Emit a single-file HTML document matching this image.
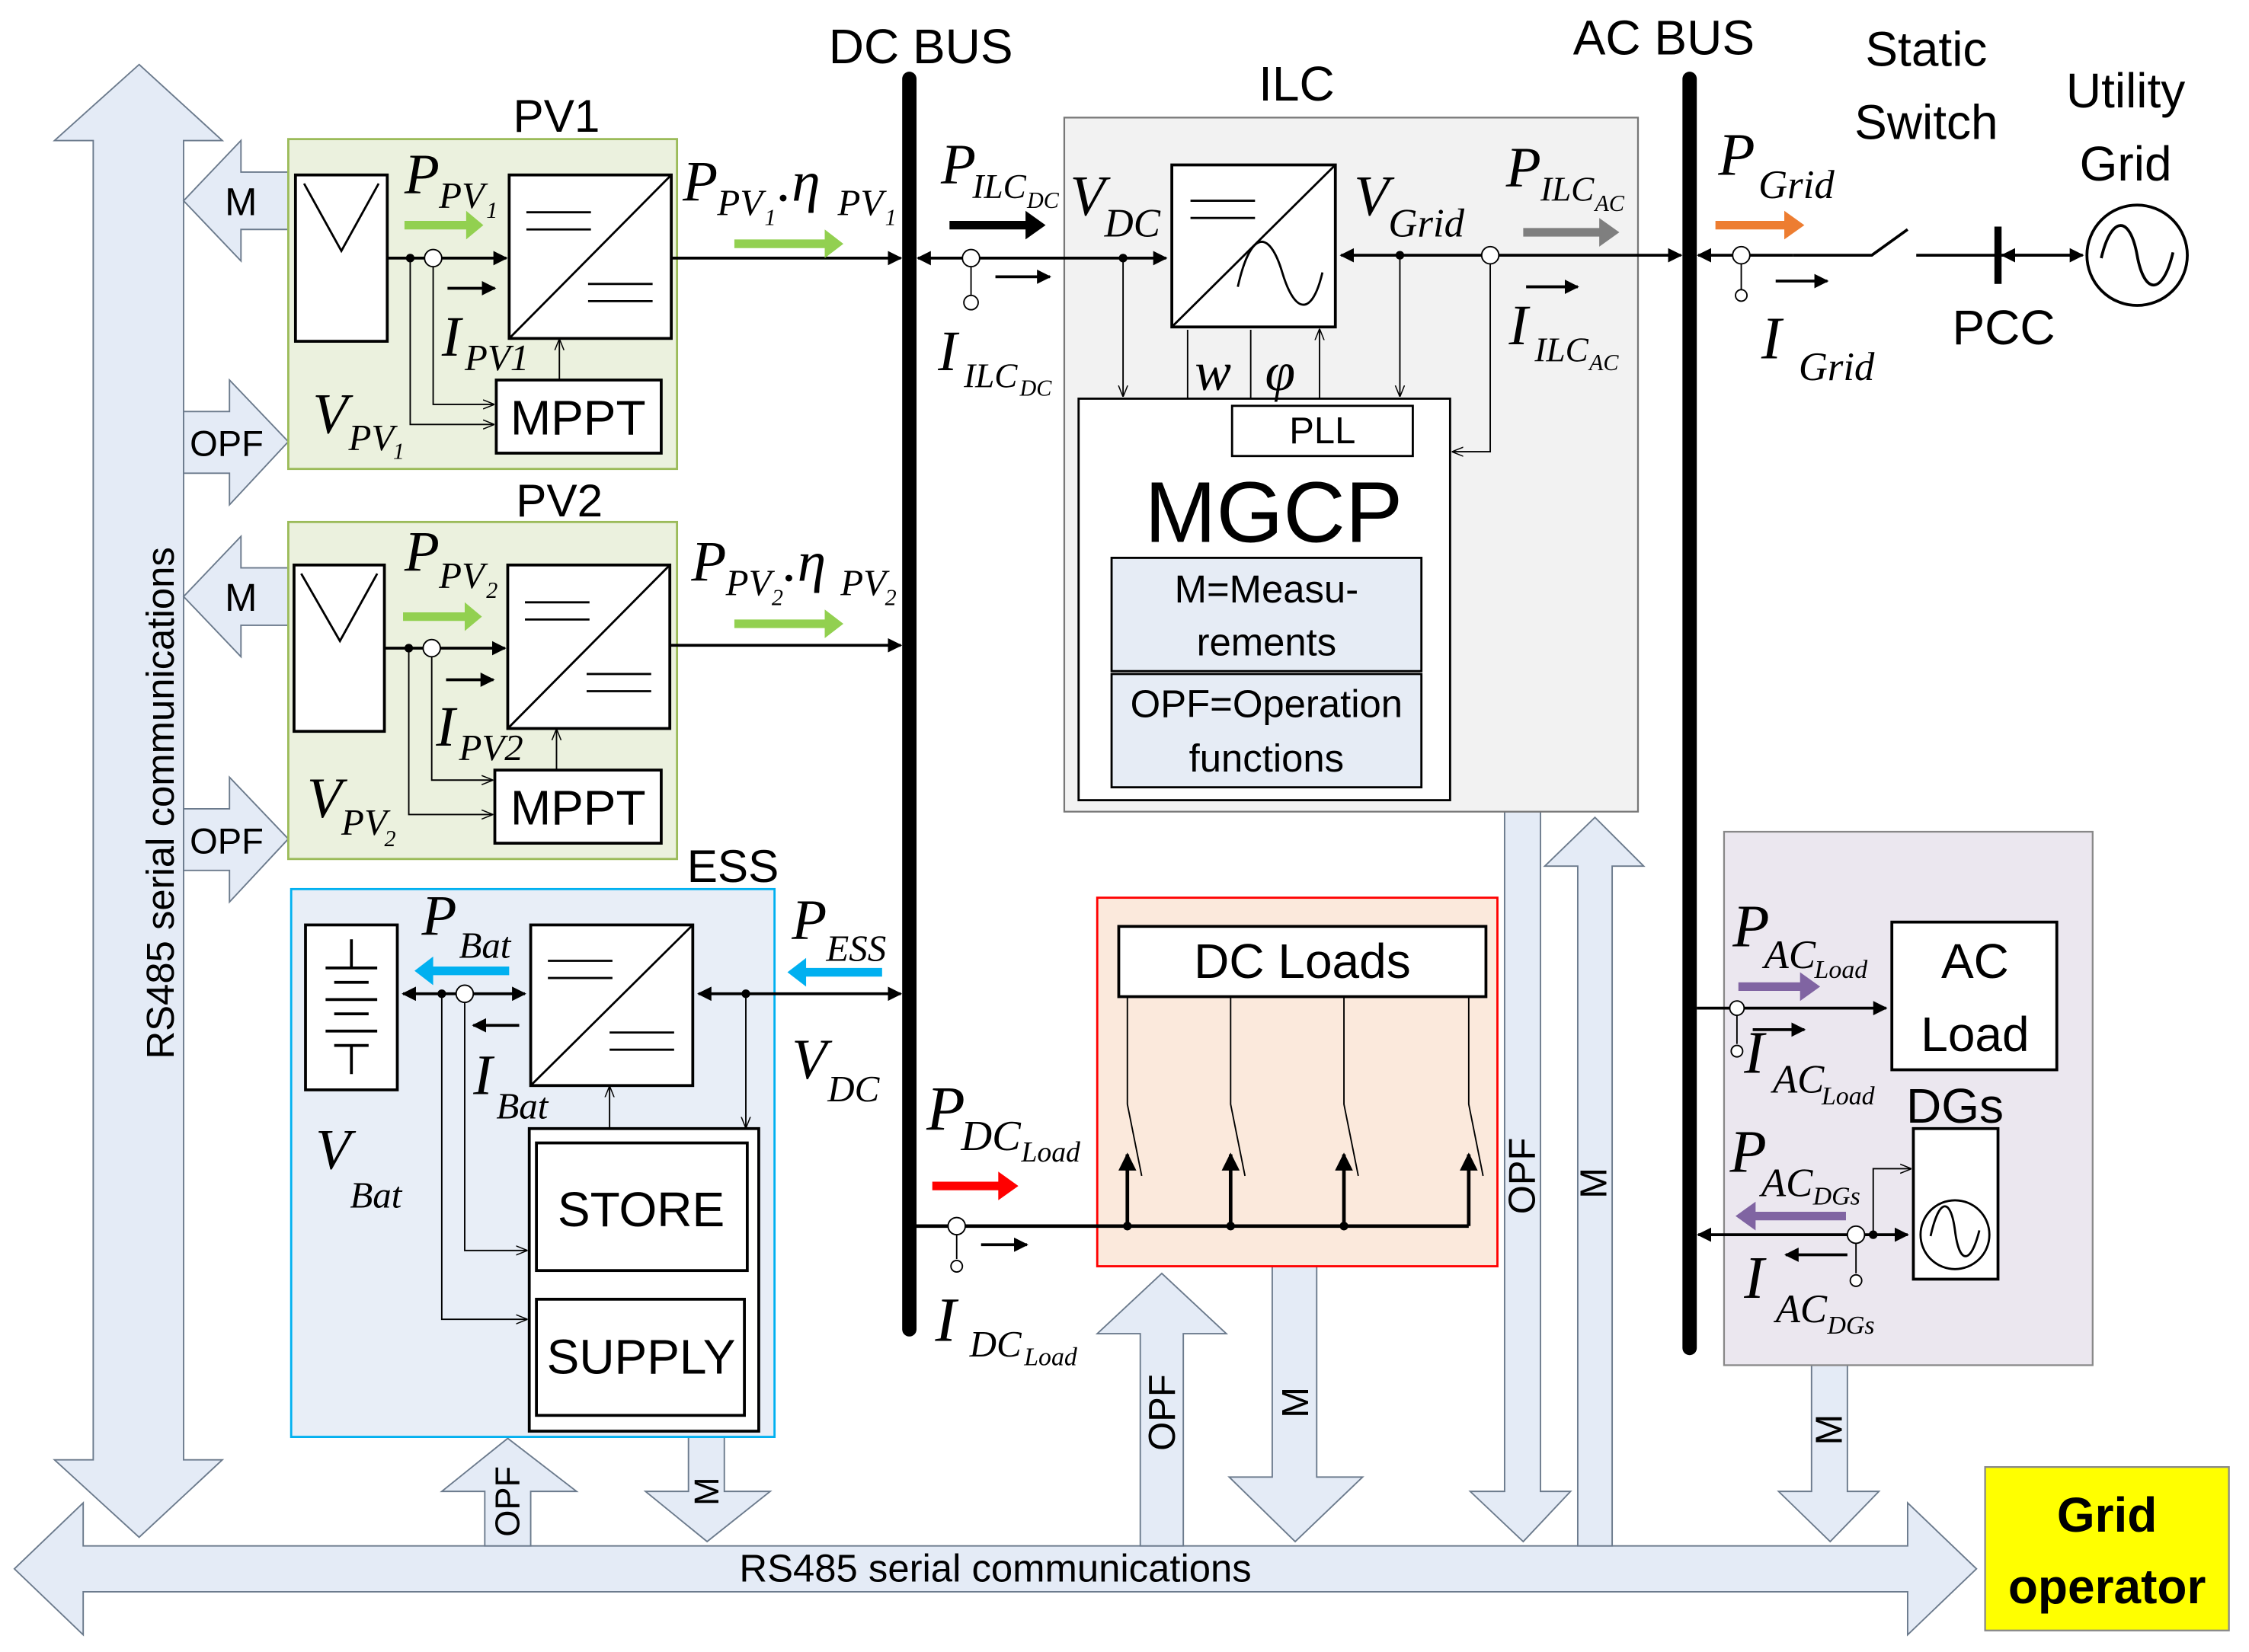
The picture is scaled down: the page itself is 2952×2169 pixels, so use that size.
<!DOCTYPE html>
<html><head><meta charset="utf-8"><style>
html,body{margin:0;padding:0;background:#fff}
svg{display:block}
.s{font-family:"Liberation Sans",sans-serif}
.m{font-family:"Liberation Serif",serif;font-style:italic}
.ar{fill:#e4ebf6;stroke:#6b7a8c;stroke-width:1}
path{fill:none}
path.f{fill:currentColor}
</style></head><body>
<svg width="2952" height="2169" viewBox="0 0 1568 1152" preserveAspectRatio="none" xmlns="http://www.w3.org/2000/svg">
<defs>
<marker id="a" viewBox="0 0 10 10" refX="9" refY="5" markerWidth="5" markerHeight="5" orient="auto-start-reverse"><polygon points="0,0 10,5 0,10" fill="#000"/></marker>
<marker id="o" viewBox="0 0 10 10" refX="9" refY="5" markerWidth="8" markerHeight="8" orient="auto"><polyline points="0,1 10,5 0,9" fill="none" stroke="#000" stroke-width="1"/></marker>
</defs>

<!-- big communication arrows -->
<polygon class="ar" points="97,45 155,98 128,98 128,1018 155,1018 97,1072 38,1018 65,1018 65,98 38,98"/>
<text class="s" font-size="27" transform="translate(121,560) rotate(-90)" text-anchor="middle">RS485 serial communications</text>
<polygon class="ar" points="10,1094 58,1048 58,1078 1330,1078 1330,1048 1378,1094 1330,1140 1330,1110 58,1110 58,1140"/>
<text class="s" font-size="27" x="694" y="1103" text-anchor="middle">RS485 serial communications</text>

<!-- small left arrows -->
<polygon class="ar" points="128,140 168,98 168,120 201,120 201,160 168,160 168,182"/>
<text class="s" font-size="27" x="168" y="150" text-anchor="middle">M</text>
<polygon class="ar" points="201,308 160,265 160,287 128,287 128,330 160,330 160,352"/>
<text class="s" font-size="25" x="158" y="318" text-anchor="middle">OPF</text>
<polygon class="ar" points="128,416 168,374 168,396 201,396 201,436 168,436 168,458"/>
<text class="s" font-size="27" x="168" y="426" text-anchor="middle">M</text>
<polygon class="ar" points="201,585 160,542 160,564 128,564 128,607 160,607 160,629"/>
<text class="s" font-size="25" x="158" y="595" text-anchor="middle">OPF</text>

<!-- vertical OPF/M arrows -->
<polygon class="ar" points="338,1078 338,1040 308,1040 354,1003 402,1040 370,1040 370,1078"/>
<text class="s" font-size="24" transform="translate(362,1047) rotate(-90)" text-anchor="middle">OPF</text>
<polygon class="ar" points="480,1002 505,1002 505,1040 537,1040 493,1075 450,1040 480,1040"/>
<text class="s" font-size="24" transform="translate(501,1040) rotate(-90)" text-anchor="middle">M</text>
<polygon class="ar" points="795,1078 795,930 765,930 810,888 855,930 825,930 825,1078"/>
<text class="s" font-size="26" transform="translate(819,985) rotate(-90)" text-anchor="middle">OPF</text>
<polygon class="ar" points="887,883 918,883 918,1030 950,1030 903,1075 857,1030 887,1030"/>
<text class="s" font-size="26" transform="translate(912,978) rotate(-90)" text-anchor="middle">M</text>
<polygon class="ar" points="1049,566 1074,566 1074,1040 1095,1040 1062,1075 1025,1040 1049,1040"/>
<text class="s" font-size="26" transform="translate(1070,820) rotate(-90)" text-anchor="middle">OPF</text>
<polygon class="ar" points="1100,1078 1100,604 1077,604 1112,570 1146,604 1124,604 1124,1078"/>
<text class="s" font-size="26" transform="translate(1120,825) rotate(-90)" text-anchor="middle">M</text>
<polygon class="ar" points="1263,952 1288,952 1288,1040 1310,1040 1276,1075 1240,1040 1263,1040"/>
<text class="s" font-size="26" transform="translate(1284,997) rotate(-90)" text-anchor="middle">M</text>

<!-- region boxes -->
<rect x="201" y="97" width="271" height="230" fill="#ebf1de" stroke="#9bbb59" stroke-width="1.5"/>
<rect x="201" y="364" width="271" height="235" fill="#ebf1de" stroke="#9bbb59" stroke-width="1.5"/>
<rect x="203" y="620" width="337" height="382" fill="#e8eef7" stroke="#00b0f0" stroke-width="1.5"/>
<rect x="742" y="82" width="400" height="484" fill="#f2f2f2" stroke="#777" stroke-width="1.2"/>
<rect x="765" y="626" width="279" height="257" fill="#fbe9dc" stroke="#f00" stroke-width="1.5"/>
<rect x="1202" y="580" width="257" height="372" fill="#ebe7ef" stroke="#888" stroke-width="1.2"/>
<rect x="1384" y="1023" width="170" height="114" fill="#ffff00" stroke="#888" stroke-width="1.2"/>
<text class="s" font-size="34" font-weight="bold" x="1469" y="1068" text-anchor="middle">Grid</text>
<text class="s" font-size="34" font-weight="bold" x="1469" y="1118" text-anchor="middle">operator</text>

<!-- titles -->
<text class="s" font-size="34" x="642" y="44" text-anchor="middle">DC BUS</text>
<text class="s" font-size="34" x="1160" y="38" text-anchor="middle">AC BUS</text>
<text class="s" font-size="34" x="904" y="70" text-anchor="middle">ILC</text>
<text class="s" font-size="34" x="1343" y="46" text-anchor="middle">Static</text>
<text class="s" font-size="34" x="1343" y="97" text-anchor="middle">Switch</text>
<text class="s" font-size="34" x="1482" y="75" text-anchor="middle">Utility</text>
<text class="s" font-size="34" x="1482" y="126" text-anchor="middle">Grid</text>
<text class="s" font-size="34" x="1397" y="240" text-anchor="middle">PCC</text>
<text class="s" font-size="32" x="388" y="92" text-anchor="middle">PV1</text>
<text class="s" font-size="32" x="390" y="360" text-anchor="middle">PV2</text>
<text class="s" font-size="32" x="511" y="615" text-anchor="middle">ESS</text>

<!-- buses -->
<line x1="634" y1="55" x2="634" y2="927" stroke="#000" stroke-width="10" stroke-linecap="round"/>
<line x1="1178" y1="55" x2="1178" y2="940" stroke="#000" stroke-width="10" stroke-linecap="round"/>

<!-- PV1 -->
<rect x="206" y="122" width="64" height="116" fill="#fff" stroke="#000" stroke-width="2"/>
<path d="M212,128 L238,175 L264,128" stroke="#000" stroke-width="1.5"/>
<rect x="355" y="122" width="113" height="114" fill="#fff" stroke="#000" stroke-width="2"/>
<path d="M355,236 L468,122 M367,148h45 M367,160h45 M410,198h45 M410,210h45" stroke="#000" stroke-width="1.5"/>
<rect x="346" y="265" width="115" height="51" fill="#fff" stroke="#000" stroke-width="2"/>
<text class="s" font-size="34" x="403" y="303" text-anchor="middle">MPPT</text>
<line x1="270" y1="180" x2="353" y2="180" stroke="#000" stroke-width="2" marker-end="url(#a)"/>
<circle cx="286" cy="180" r="3"/><circle cx="302" cy="180" r="6" fill="#fff" stroke="#000"/>
<path d="M286,180 V296 H344" stroke="#000" marker-end="url(#o)"/>
<path d="M302,186 V282 H344" stroke="#000" marker-end="url(#o)"/>
<path d="M390,265 V237" stroke="#000" marker-end="url(#o)"/>
<line x1="468" y1="180" x2="628" y2="180" stroke="#000" stroke-width="2" marker-end="url(#a)"/>
<line x1="312" y1="201" x2="345" y2="201" stroke="#000" stroke-width="2" marker-end="url(#a)"/>
<path d="M282,157h45" stroke="#92d050" stroke-width="6"/><polygon points="325,147 337,157 325,167" fill="#92d050"/>
<path d="M512,170h65" stroke="#92d050" stroke-width="6"/><polygon points="575,160 588,170 575,180" fill="#92d050"/>
<text class="m" font-size="40" x="282" y="135">P</text><text class="m" font-size="26" x="306" y="145">PV</text><text class="m" font-size="16" x="339" y="152">1</text>
<text class="m" font-size="40" x="476" y="140">P</text><text class="m" font-size="26" x="500" y="150">PV</text><text class="m" font-size="16" x="533" y="157">1</text>
<text class="m" font-size="40" x="542" y="140">.η</text><text class="m" font-size="26" x="584" y="150">PV</text><text class="m" font-size="16" x="617" y="157">1</text>
<text class="m" font-size="40" x="308" y="248">I</text><text class="m" font-size="26" x="324" y="258">PV1</text>
<text class="m" font-size="40" x="218" y="302">V</text><text class="m" font-size="26" x="243" y="314">PV</text><text class="m" font-size="16" x="274" y="320">1</text>

<!-- PV2 -->
<rect x="205" y="394" width="63" height="116" fill="#fff" stroke="#000" stroke-width="2"/>
<path d="M210,400 L237,447 L263,400" stroke="#000" stroke-width="1.5"/>
<rect x="354" y="394" width="113" height="114" fill="#fff" stroke="#000" stroke-width="2"/>
<path d="M354,508 L467,394 M366,420h45 M366,432h45 M409,470h45 M409,482h45" stroke="#000" stroke-width="1.5"/>
<rect x="345" y="537" width="116" height="51" fill="#fff" stroke="#000" stroke-width="2"/>
<text class="s" font-size="34" x="403" y="575" text-anchor="middle">MPPT</text>
<line x1="268" y1="452" x2="352" y2="452" stroke="#000" stroke-width="2" marker-end="url(#a)"/>
<circle cx="285" cy="452" r="3"/><circle cx="301" cy="452" r="6" fill="#fff" stroke="#000"/>
<path d="M285,452 V568 H343" stroke="#000" marker-end="url(#o)"/>
<path d="M301,458 V544 H343" stroke="#000" marker-end="url(#o)"/>
<path d="M388,537 V509" stroke="#000" marker-end="url(#o)"/>
<line x1="467" y1="450" x2="628" y2="450" stroke="#000" stroke-width="2" marker-end="url(#a)"/>
<line x1="311" y1="474" x2="344" y2="474" stroke="#000" stroke-width="2" marker-end="url(#a)"/>
<path d="M281,430h45" stroke="#92d050" stroke-width="6"/><polygon points="324,420 336,430 324,440" fill="#92d050"/>
<path d="M512,435h65" stroke="#92d050" stroke-width="6"/><polygon points="575,425 588,435 575,445" fill="#92d050"/>
<text class="m" font-size="40" x="282" y="398">P</text><text class="m" font-size="26" x="306" y="410">PV</text><text class="m" font-size="16" x="339" y="417">2</text>
<text class="m" font-size="40" x="482" y="405">P</text><text class="m" font-size="26" x="506" y="415">PV</text><text class="m" font-size="16" x="538" y="422">2</text>
<text class="m" font-size="40" x="546" y="405">.η</text><text class="m" font-size="26" x="586" y="415">PV</text><text class="m" font-size="16" x="617" y="422">2</text>
<text class="m" font-size="40" x="304" y="520">I</text><text class="m" font-size="26" x="320" y="530">PV2</text>
<text class="m" font-size="40" x="214" y="570">V</text><text class="m" font-size="26" x="238" y="582">PV</text><text class="m" font-size="16" x="268" y="590">2</text>

<!-- ESS -->
<rect x="213" y="645" width="64" height="115" fill="#fff" stroke="#000" stroke-width="2"/>
<path d="M245,655v20 M227,675h36 M233,685h24 M227,697h36 M233,707h24 M227,719h36 M233,729h24 M245,729v20" stroke="#000" stroke-width="2"/>
<rect x="370" y="645" width="113" height="112" fill="#fff" stroke="#000" stroke-width="2"/>
<path d="M370,757 L483,645 M382,670h45 M382,682h45 M425,720h45 M425,732h45" stroke="#000" stroke-width="1.5"/>
<rect x="369" y="787" width="160" height="211" fill="#fff" stroke="#000" stroke-width="2"/>
<rect x="374" y="797" width="147" height="89" fill="#fff" stroke="#000" stroke-width="2"/>
<rect x="374" y="906" width="145" height="81" fill="#fff" stroke="#000" stroke-width="2"/>
<text class="s" font-size="34" x="447" y="855" text-anchor="middle">STORE</text>
<text class="s" font-size="34" x="447" y="958" text-anchor="middle">SUPPLY</text>
<line x1="281" y1="693" x2="366" y2="693" stroke="#000" stroke-width="2" marker-start="url(#a)" marker-end="url(#a)"/>
<line x1="487" y1="693" x2="628" y2="693" stroke="#000" stroke-width="2" marker-start="url(#a)" marker-end="url(#a)"/>
<circle cx="308" cy="693" r="3"/><circle cx="324" cy="693" r="6" fill="#fff" stroke="#000"/><circle cx="520" cy="693" r="3"/>
<path d="M308,693 V920 H367" stroke="#000" marker-end="url(#o)"/>
<path d="M324,699 V872 H367" stroke="#000" marker-end="url(#o)"/>
<path d="M520,693 V786" stroke="#000" marker-end="url(#o)"/>
<path d="M425,787 V758" stroke="#000" marker-end="url(#o)"/>
<line x1="362" y1="715" x2="330" y2="715" stroke="#000" stroke-width="2" marker-end="url(#a)"/>
<path d="M300,677h55" stroke="#00b0f0" stroke-width="6"/><polygon points="302,667 289,677 302,687" fill="#00b0f0"/>
<path d="M560,678h55" stroke="#00b0f0" stroke-width="6"/><polygon points="562,668 549,678 562,688" fill="#00b0f0"/>
<text class="m" font-size="40" x="294" y="652">P</text><text class="m" font-size="26" x="320" y="668">Bat</text>
<text class="m" font-size="40" x="552" y="655">P</text><text class="m" font-size="26" x="576" y="670">ESS</text>
<text class="m" font-size="40" x="330" y="763">I</text><text class="m" font-size="26" x="346" y="780">Bat</text>
<text class="m" font-size="40" x="220" y="815">V</text><text class="m" font-size="26" x="244" y="842">Bat</text>
<text class="m" font-size="40" x="552" y="752">V</text><text class="m" font-size="26" x="577" y="768">DC</text>

<!-- ILC -->
<rect x="817" y="115" width="114" height="113" fill="#fff" stroke="#000" stroke-width="2"/>
<path d="M817,228 L931,115 M830,140h45 M830,152h45" stroke="#000" stroke-width="1.5"/>
<path d="M863,200 C872,160 885,160 894,190 C903,220 915,220 922,190" stroke="#000" stroke-width="1.5"/>
<line x1="640" y1="180" x2="813" y2="180" stroke="#000" stroke-width="2" marker-start="url(#a)" marker-end="url(#a)"/>
<line x1="935" y1="178" x2="1172" y2="178" stroke="#000" stroke-width="2" marker-start="url(#a)" marker-end="url(#a)"/>
<circle cx="677" cy="180" r="6" fill="#fff" stroke="#000"/><path d="M677,186V206" stroke="#000"/><circle cx="677" cy="211" r="5" fill="#fff" stroke="#000"/>
<line x1="694" y1="193" x2="732" y2="193" stroke="#000" stroke-width="2" marker-end="url(#a)"/>
<circle cx="783" cy="180" r="3"/><path d="M783,180V276" stroke="#000" marker-end="url(#o)"/>
<circle cx="976" cy="178" r="3"/><path d="M976,178V276" stroke="#000" marker-end="url(#o)"/>
<circle cx="1039" cy="178" r="6" fill="#fff" stroke="#000"/><path d="M1039,184V315H1013" stroke="#000" marker-end="url(#o)"/>
<line x1="1064" y1="200" x2="1100" y2="200" stroke="#000" stroke-width="2" marker-end="url(#a)"/>
<path d="M828,278V230 M872,278V230 M920,278V230" stroke="#000" marker-end="url(#o)"/>
<rect x="752" y="278" width="259" height="280" fill="#fff" stroke="#000" stroke-width="1.5"/>
<rect x="859" y="283" width="126" height="35" fill="#fff" stroke="#000" stroke-width="1.5"/>
<text class="s" font-size="26" x="922" y="309" text-anchor="middle">PLL</text>
<text class="s" font-size="60" x="888" y="378" text-anchor="middle">MGCP</text>
<rect x="775" y="389" width="216" height="79" fill="#e6ecf5" stroke="#000" stroke-width="1.5"/>
<rect x="775" y="470" width="216" height="79" fill="#e6ecf5" stroke="#000" stroke-width="1.5"/>
<text class="s" font-size="27" x="883" y="420" text-anchor="middle">M=Measu-</text>
<text class="s" font-size="27" x="883" y="457" text-anchor="middle">rements</text>
<text class="s" font-size="27" x="883" y="500" text-anchor="middle">OPF=Operation</text>
<text class="s" font-size="27" x="883" y="538" text-anchor="middle">functions</text>
<text class="m" font-size="38" x="833" y="272">w</text><text class="m" font-size="38" x="882" y="272">φ</text>
<path d="M662,157h55" stroke="#000" stroke-width="6"/><polygon points="715,147 729,157 715,167" fill="#000"/>
<path d="M1062,162h55" stroke="#7f7f7f" stroke-width="6"/><polygon points="1115,152 1129,162 1115,172" fill="#7f7f7f"/>
<text class="m" font-size="40" x="656" y="128">P</text><text class="m" font-size="24" x="678" y="138">ILC</text><text class="m" font-size="16" x="716" y="145">DC</text>
<text class="m" font-size="40" x="746" y="150">V</text><text class="m" font-size="28" x="770" y="165">DC</text>
<text class="m" font-size="40" x="944" y="150">V</text><text class="m" font-size="28" x="968" y="165">Grid</text>
<text class="m" font-size="40" x="1050" y="130">P</text><text class="m" font-size="24" x="1074" y="140">ILC</text><text class="m" font-size="16" x="1112" y="147">AC</text>
<text class="m" font-size="40" x="654" y="258">I</text><text class="m" font-size="24" x="672" y="270">ILC</text><text class="m" font-size="16" x="711" y="276">DC</text>
<text class="m" font-size="40" x="1052" y="240">I</text><text class="m" font-size="24" x="1070" y="252">ILC</text><text class="m" font-size="16" x="1108" y="258">AC</text>

<!-- Grid side -->
<line x1="1184" y1="178" x2="1250" y2="178" stroke="#000" stroke-width="2" marker-start="url(#a)"/>
<circle cx="1214" cy="178" r="6" fill="#fff" stroke="#000"/><path d="M1214,184V202" stroke="#000"/><circle cx="1214" cy="206" r="4" fill="#fff" stroke="#000"/>
<line x1="1238" y1="196" x2="1274" y2="196" stroke="#000" stroke-width="2" marker-end="url(#a)"/>
<path d="M1250,178H1305 L1330,160 M1336,178H1452" stroke="#000" stroke-width="2"/>
<line x1="1393" y1="158" x2="1393" y2="198" stroke="#000" stroke-width="5"/>
<line x1="1396" y1="178" x2="1452" y2="178" stroke="#000" stroke-width="2" marker-start="url(#a)" marker-end="url(#a)"/>
<circle cx="1490" cy="178" r="35" fill="#fff" stroke="#000" stroke-width="2"/>
<path d="M1465,180 C1472,150 1485,150 1490,178 C1495,206 1508,206 1515,176" stroke="#000" stroke-width="2"/>
<path d="M1196,157h50" stroke="#ed7d31" stroke-width="6"/><polygon points="1244,147 1258,157 1244,167" fill="#ed7d31"/>
<text class="m" font-size="42" x="1198" y="122">P</text><text class="m" font-size="28" x="1226" y="138">Grid</text>
<text class="m" font-size="42" x="1228" y="250">I</text><text class="m" font-size="28" x="1254" y="265">Grid</text>

<!-- DC Loads -->
<rect x="780" y="646" width="256" height="49" fill="#fff" stroke="#000" stroke-width="2"/>
<text class="s" font-size="34" x="908" y="682" text-anchor="middle">DC Loads</text>
<g stroke="#000" stroke-width="1" fill="none">
<path d="M786,695V770 L796,820"/><path d="M858,695V770 L868,820"/>
<path d="M937,695V770 L947,820"/><path d="M1024,695V770 L1034,820"/>
</g>
<g stroke="#000" stroke-width="2.5">
<line x1="786" y1="855" x2="786" y2="805" marker-end="url(#a)"/><line x1="858" y1="855" x2="858" y2="805" marker-end="url(#a)"/>
<line x1="937" y1="855" x2="937" y2="805" marker-end="url(#a)"/><line x1="1024" y1="855" x2="1024" y2="805" marker-end="url(#a)"/>
</g>
<path d="M634,855H1024" stroke="#000" stroke-width="2.5"/>
<circle cx="786" cy="855" r="3"/><circle cx="858" cy="855" r="3"/><circle cx="937" cy="855" r="3"/>
<circle cx="667" cy="855" r="6" fill="#fff" stroke="#000"/><path d="M667,861V878" stroke="#000"/><circle cx="667" cy="883" r="4" fill="#fff" stroke="#000"/>
<line x1="684" y1="868" x2="716" y2="868" stroke="#000" stroke-width="2" marker-end="url(#a)"/>
<path d="M650,827h48" stroke="#f00" stroke-width="6"/><polygon points="696,817 710,827 696,837" fill="#f00"/>
<text class="m" font-size="44" x="646" y="788">P</text><text class="m" font-size="30" x="670" y="802">DC</text><text class="m" font-size="20" x="712" y="810">Load</text>
<text class="m" font-size="44" x="652" y="935">I</text><text class="m" font-size="26" x="676" y="946">DC</text><text class="m" font-size="18" x="714" y="952">Load</text>

<!-- AC side -->
<rect x="1319" y="643" width="115" height="103" fill="#fff" stroke="#000" stroke-width="2"/>
<text class="s" font-size="34" x="1377" y="682" text-anchor="middle">AC</text>
<text class="s" font-size="34" x="1377" y="733" text-anchor="middle">Load</text>
<line x1="1183" y1="703" x2="1315" y2="703" stroke="#000" stroke-width="2" marker-end="url(#a)"/>
<circle cx="1211" cy="703" r="5" fill="#fff" stroke="#000"/><path d="M1211,708V728" stroke="#000"/><circle cx="1211" cy="733" r="4" fill="#fff" stroke="#000"/>
<line x1="1222" y1="718" x2="1258" y2="718" stroke="#000" stroke-width="2" marker-end="url(#a)"/>
<path d="M1212,688h45" stroke="#8064a2" stroke-width="6"/><polygon points="1255,678 1269,688 1255,698" fill="#8064a2"/>
<text class="m" font-size="42" x="1208" y="660">P</text><text class="m" font-size="28" x="1230" y="675">AC</text><text class="m" font-size="18" x="1265" y="682">Load</text>
<text class="m" font-size="42" x="1216" y="748">I</text><text class="m" font-size="28" x="1236" y="762">AC</text><text class="m" font-size="18" x="1270" y="770">Load</text>
<text class="s" font-size="34" x="1363" y="783" text-anchor="middle">DGs</text>
<rect x="1334" y="787" width="59" height="105" fill="#fff" stroke="#000" stroke-width="2"/>
<circle cx="1363" cy="861" r="24" fill="#fff" stroke="#000" stroke-width="1.5"/>
<path d="M1346,862 C1352,835 1360,835 1363,858 C1366,882 1374,882 1380,858" stroke="#000" stroke-width="1.5"/>
<line x1="1184" y1="861" x2="1330" y2="861" stroke="#000" stroke-width="2" marker-start="url(#a)" marker-end="url(#a)"/>
<circle cx="1294" cy="861" r="6" fill="#fff" stroke="#000"/><path d="M1294,867V888" stroke="#000"/><circle cx="1294" cy="893" r="4" fill="#fff" stroke="#000"/>
<circle cx="1306" cy="861" r="3"/><path d="M1306,861V815H1332" stroke="#000" marker-end="url(#o)"/>
<line x1="1288" y1="875" x2="1245" y2="875" stroke="#000" stroke-width="2" marker-end="url(#a)"/>
<path d="M1222,848h65" stroke="#8064a2" stroke-width="6"/><polygon points="1224,838 1210,848 1224,858" fill="#8064a2"/>
<text class="m" font-size="42" x="1206" y="817">P</text><text class="m" font-size="28" x="1228" y="834">AC</text><text class="m" font-size="18" x="1264" y="840">DGs</text>
<text class="m" font-size="42" x="1216" y="905">I</text><text class="m" font-size="28" x="1238" y="922">AC</text><text class="m" font-size="18" x="1274" y="930">DGs</text>
</svg>
</body></html>
